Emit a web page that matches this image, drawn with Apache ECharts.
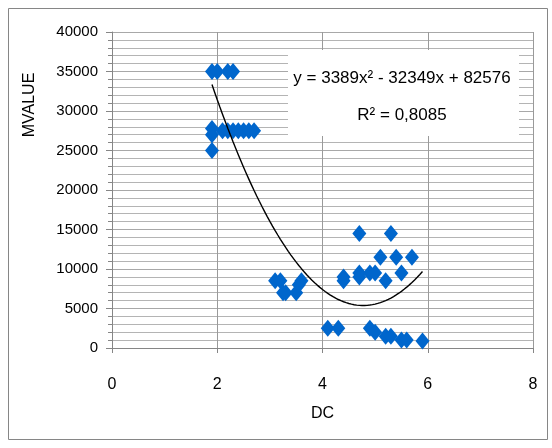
<!DOCTYPE html>
<html>
<head>
<meta charset="utf-8">
<script src="https://cdn.jsdelivr.net/npm/echarts@6/dist/echarts.min.js"></script>
<style>
html,body{margin:0;padding:0;background:#fff;}
#c{width:552px;height:448px;}
</style>
</head>
<body>
<div id="c"></div>
<script>
// ---- data ----
const dcValues = [1.9, 2.0, 2.2, 2.3,
  1.9, 1.9, 1.9, 2.1, 2.2, 2.3, 2.4, 2.5, 2.6, 2.7,
  3.1, 3.2, 3.25, 3.3, 3.5, 3.55, 3.6,
  4.7, 5.3, 5.1, 5.4, 5.7, 4.4, 4.4, 4.7, 4.7, 4.9, 5.0, 5.2, 5.5,
  4.1, 4.3, 4.9, 5.0, 5.2, 5.3, 5.5, 5.6, 5.9];
const mvalueValues = [35000, 35000, 35000, 35000,
  27800, 27000, 25000, 27500, 27500, 27500, 27500, 27500, 27500, 27500,
  8500, 8500, 7000, 7000, 7000, 8000, 8500,
  14500, 14500, 11500, 11500, 11500, 9000, 8500, 9500, 9000, 9500, 9500, 8500, 9500,
  2500, 2500, 2500, 2000, 1500, 1500, 1000, 1000, 900];
const xTicks = [0, 2, 4, 6, 8];
const yTicks = [0, 5000, 10000, 15000, 20000, 25000, 30000, 35000, 40000];
// trendline coefficients (as printed on the chart)
const trendA = 3389, trendB = -32349, trendC = 82576;
const trendR2 = '0,8085';
const trendFrom = 1.9, trendTo = 5.9;

const points = dcValues.map((x, i) => [x, mvalueValues[i]]);
const trend = [];
for (let k = 0; k <= 80; k++) {
  const x = trendFrom + (trendTo - trendFrom) * k / 80;
  trend.push([x, trendA * x * x + trendB * x + trendC]);
}

const FONT = '"Liberation Sans Narrow", "Liberation Sans", sans-serif';
const chart = echarts.init(document.getElementById('c'), null, {renderer: 'canvas'});
chart.setOption({
  animation: false,
  backgroundColor: '#fff',
  grid: {left: 112, top: 32, width: 421, height: 316, containLabel: false},
  xAxis: {
    type: 'value', min: xTicks[0], max: xTicks[xTicks.length - 1], interval: 2,
    axisLine: {show: true, onZero: false, lineStyle: {color: '#868686', width: 1}},
    axisTick: {show: true, length: 5, lineStyle: {color: '#868686'}},
    axisLabel: {margin: 29, fontSize: 16, color: '#000', fontFamily: FONT},
    splitLine: {show: true, lineStyle: {color: '#9a9a9a', width: 1}},
    name: 'DC', nameLocation: 'middle', nameGap: 58,
    nameTextStyle: {fontSize: 16, color: '#000', fontFamily: FONT}
  },
  yAxis: {
    type: 'value', min: yTicks[0], max: yTicks[yTicks.length - 1], interval: 5000,
    axisLine: {show: true, lineStyle: {color: '#868686', width: 1}},
    axisTick: {show: true, length: 6, lineStyle: {color: '#868686'}},
    minorTick: {show: true, splitNumber: 5, length: 4, lineStyle: {color: '#868686'}},
    axisLabel: {margin: 14, fontSize: 15, color: '#000', fontFamily: FONT,
                formatter: v => String(v)},
    splitLine: {show: true, lineStyle: {color: '#a8a8a8', width: 1}},
    minorSplitLine: {show: true, lineStyle: {color: '#b4b4b4', width: 1}}
  },
  graphic: [
    {type: 'rect', z: -10, silent: true, shape: {x: 8.5, y: 8.5, width: 539, height: 431},
     style: {fill: 'none', stroke: '#868686', lineWidth: 1}},
    {type: 'rect', z: 100, silent: true, shape: {x: 288, y: 50, width: 231, height: 86},
     style: {fill: '#fff', stroke: 'none'}},
    {type: 'text', z: 101, silent: true, x: 402, y: 78,
     style: {text: 'y = 3389x² - 32349x + 82576', font: '17px ' + FONT, fill: '#000',
             align: 'center', verticalAlign: 'middle'}},
    {type: 'text', z: 101, silent: true, x: 402, y: 115,
     style: {text: 'R² = ' + trendR2, font: '17px ' + FONT, fill: '#000',
             align: 'center', verticalAlign: 'middle'}},
    {type: 'text', z: 101, silent: true, x: 30, y: 105, rotation: Math.PI / 2,
     style: {text: 'MVALUE', font: '16px ' + FONT, fill: '#000',
             align: 'center', verticalAlign: 'middle'}}
  ],
  series: [
    {type: 'scatter', data: points, symbol: 'diamond', symbolSize: [14, 17],
     itemStyle: {color: '#0066cc', opacity: 1}, z: 3},
    {type: 'line', data: trend, showSymbol: false, smooth: false,
     lineStyle: {color: '#000', width: 1.4}, z: 4}
  ]
});
</script>
</body>
</html>
